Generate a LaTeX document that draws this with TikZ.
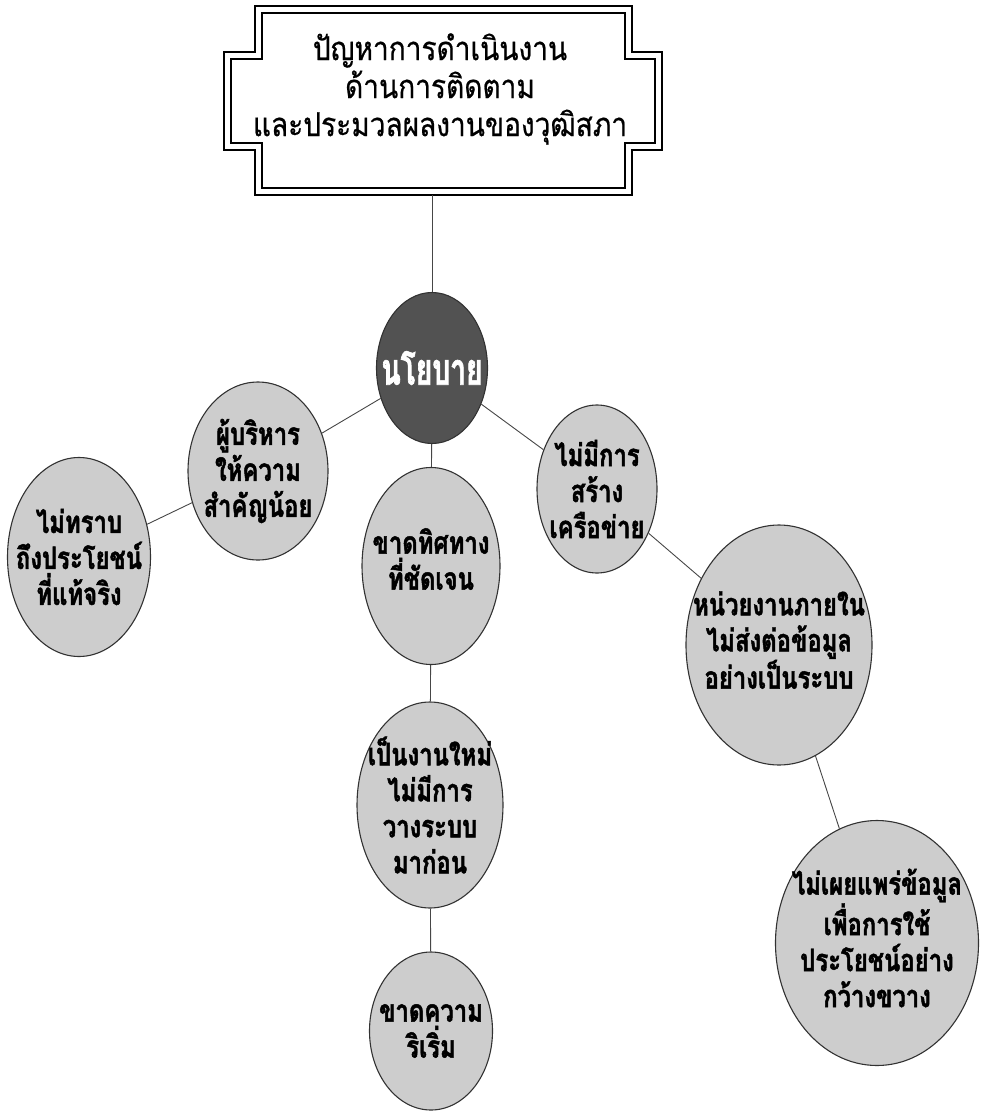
\documentclass[tikz,border=0pt]{standalone}
\usepackage{fontspec}
\newfontfamily\thaititle[Script=Thai,FakeStretch=0.85,FakeBold=0.6]{Loma}
\newfontfamily\thaibold[Script=Thai,FakeStretch=0.77,BoldFeatures={FakeBold=1.5}]{Loma}
\newfontfamily\thaibig[Script=Thai,FakeStretch=0.64,BoldFeatures={FakeBold=1.5}]{Loma}
\usetikzlibrary{shapes.geometric}
\definecolor{bubfill}{RGB}{205,205,205}
\definecolor{darkfill}{RGB}{82,82,82}
\definecolor{edgecol}{RGB}{50,50,50}
\definecolor{linkcol}{RGB}{70,70,70}
\begin{document}
\begin{tikzpicture}[x=1pt,y=-1pt,
  bub/.style={ellipse, draw=edgecol, line width=1.1pt, fill=bubfill, inner sep=0pt},
  btxt/.style={align=center, inner sep=0pt, font=\thaibold\bfseries\fontsize{31}{36}\selectfont, text=black},
  ttxt/.style={align=center, inner sep=0pt, font=\thaititle\fontsize{33}{38}\selectfont, text=black},
  link/.style={draw=linkcol, line width=0.9pt},
  frameout/.style={draw=black, line width=2.6pt},
  framein/.style={draw=black, line width=1.6pt}]
\useasboundingbox (0,0) rectangle (983,1113);

% title frame
\node[minimum width=377pt, minimum height=189pt, inner sep=0pt] (frame) at (443.5,100.5) {};
\draw[frameout] (255,6) -- (632,6) -- (632,52) -- (662,52) -- (662,150) -- (632,150) -- (632,195) -- (255,195) -- (255,150) -- (224,150) -- (224,52) -- (255,52) -- cycle;
\draw[framein] (262,13) -- (625,13) -- (625,59) -- (655,59) -- (655,143) -- (625,143) -- (625,188) -- (262,188) -- (262,143) -- (231,143) -- (231,59) -- (262,59) -- cycle;
\node[ttxt] (title) at (440,89) {ปัญหาการดำเนินงาน\\ด้านการติดตาม\\และประมวลผลงานของวุฒิสภา};

% ellipses
\node[bub, fill=darkfill, minimum width=111pt, minimum height=151pt] (nayo) at (432,368) {};
\node[bub, minimum width=140pt, minimum height=178pt] (exec) at (258,471) {};
\node[bub, minimum width=143pt, minimum height=199pt] (know) at (79,557) {};
\node[bub, minimum width=138pt, minimum height=197pt] (dir) at (431,566) {};
\node[bub, minimum width=120pt, minimum height=168pt] (net) at (597,489) {};
\node[bub, minimum width=186pt, minimum height=240pt] (unit) at (779,645) {};
\node[bub, minimum width=146pt, minimum height=206pt] (newj) at (430,805) {};
\node[bub, minimum width=123pt, minimum height=158pt] (init) at (431,1031) {};
\node[bub, minimum width=203pt, minimum height=245pt] (pub) at (877,943) {};

% texts
\node[align=center, inner sep=0pt, font=\thaibig\bfseries\fontsize{44}{48}\selectfont, text=white] (nayo-t) at (nayo) {นโยบาย};
\node[btxt] (exec-t) at (exec) {ผู้บริหาร\\ให้ความ\\สำคัญน้อย};
\node[btxt] (know-t) at (know) {ไม่ทราบ\\ถึงประโยชน์\\ที่แท้จริง};
\node[btxt] (dir-t) at (431,559) {ขาดทิศทาง\\ที่ชัดเจน};
\node[btxt] (net-t) at (net) {ไม่มีการ\\สร้าง\\เครือข่าย};
\node[btxt] (unit-t) at (779,640) {หน่วยงานภายใน\\ไม่ส่งต่อข้อมูล\\อย่างเป็นระบบ};
\node[btxt] (newj-t) at (newj) {เป็นงานใหม่\\ไม่มีการ\\วางระบบ\\มาก่อน};
\node[btxt] (init-t) at (init) {ขาดความ\\ริเริ่ม};
\node[btxt] (pub-t) at (877,938) {ไม่เผยแพร่ข้อมูล\\เพื่อการใช้\\ประโยชน์อย่าง\\กว้างขวาง};

% connectors
\draw[link] (nayo.north) -- (nayo.north |- frame.south);
\draw[link] (nayo) -- (exec);
\draw[link] (exec) -- (know);
\draw[link] (nayo) -- (dir);
\draw[link] (nayo) -- (net);
\draw[link] (net) -- (unit);
\draw[link] (unit) -- (pub);
\draw[link] (dir) -- (newj);
\draw[link] (newj) -- (init);
\end{tikzpicture}
\end{document}
